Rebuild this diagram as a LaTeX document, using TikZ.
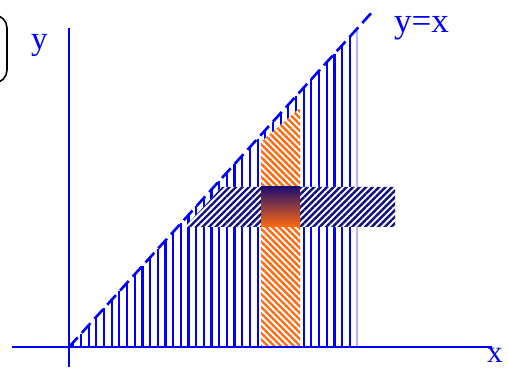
\documentclass[tikz,border=0pt]{standalone}
\usepackage{fontspec}
\setmainfont{Liberation Serif}
\usetikzlibrary{patterns.meta}
\definecolor{hblue}{RGB}{0,0,255}
\definecolor{hnavy}{RGB}{16,16,128}
\definecolor{horange}{RGB}{255,106,16}
\definecolor{hindigo}{RGB}{32,14,110}
\tikzset{
  axis/.style={hblue, line width=1.6pt},
  vline/.style={hblue, line width=2.2pt},
  diag/.style={hblue, line width=2.6pt, dash pattern=on 13pt off 6pt},
  lbl/.style={text=hblue, inner sep=0pt, anchor=base west},
  orangehatch/.style={pattern={Lines[angle=-45,distance=4.6pt,line width=2.4pt]}, pattern color=horange},
  navyhatch/.style={pattern={Lines[angle=45,distance=4.6pt,line width=2.4pt]}, pattern color=hnavy}
}
\begin{document}
\begin{tikzpicture}[x=1pt,y=1pt]
\useasboundingbox (0,0) rectangle (508,371);
\clip (0,0) rectangle (508,371);
% bracket
\draw[black, line width=1.6pt, rounded corners=13pt] (-40,288) rectangle (7,356);
% vertical hatch lines under y=x
\foreach \i in {0,...,36} {
  \pgfmathsetmacro\xx{73.3+\i*7.68}
  \pgfmathsetmacro\yy{24+(\xx-69)*1.105}
  \draw[vline] (\xx,24) -- (\xx,\yy);
}
\draw[hblue!30, line width=2.2pt] (357,24) -- (357,342);
% orange vertical strip
\fill[white] (261,24) -- (261,229) -- (300,263) -- (300,24) -- cycle;
\fill[orangehatch] (261,24) -- (261,229) -- (300,263) -- (300,24) -- cycle;
% navy horizontal band
\fill[white] (185,144) -- (222,184) -- (395,184) -- (395,144) -- cycle;
\fill[navyhatch] (185,144) -- (222,184) -- (395,184) -- (395,144) -- cycle;
% gradient square
\shade[top color=hindigo, bottom color=horange] (261,144) rectangle (300,184);
% axes
\coordinate (O) at (69,24);
\coordinate (xs) at (12,24);
\coordinate (xe) at (492,24);
\coordinate (ys) at (69,4);
\coordinate (ye) at (69,343);
\coordinate (de) at (374,361);
\draw[axis] (xs) -- (xe);
\draw[axis] (ys) -- (ye);
\draw[diag] (O) -- (de);
% labels
\node[lbl, font=\fontsize{33}{36}\selectfont] (ylab) at (31,321) {y};
\node[lbl, font=\fontsize{35}{38}\selectfont] (yxlab) at (394,338) {y=x};
\node[lbl, font=\fontsize{31}{34}\selectfont] (xlab) at (487,8) {x};
\end{tikzpicture}
\end{document}
